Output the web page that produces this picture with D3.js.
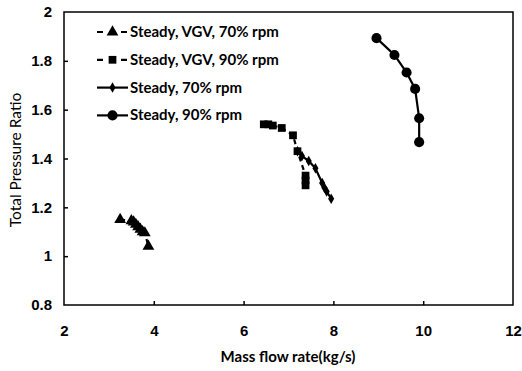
<!DOCTYPE html>
<html>
<head>
<meta charset="utf-8">
<script src="https://cdn.jsdelivr.net/npm/d3@7"></script>
<style>
  body { margin: 0; background: #fff; }
  svg { display: block; font-family: Lato, "Open Sans", sans-serif; }
</style>
</head>
<body>
<svg id="chart" width="522" height="371"></svg>
<script>
// Compressor characteristic: mass flow vs. total pressure ratio
const xTicks = [2, 4, 6, 8, 10, 12];
const yTicks = [0.8, 1, 1.2, 1.4, 1.6, 1.8, 2];

const vgv70 = [[3.25,1.15],[3.5,1.145],[3.55,1.14],[3.6,1.13],[3.65,1.12],[3.7,1.11],[3.75,1.10],[3.8,1.095],[3.88,1.04]];
const vgv90 = [[6.45,1.54],[6.55,1.54],[6.65,1.535],[6.85,1.525],[7.1,1.495],[7.2,1.43],[7.38,1.33],[7.38,1.31],[7.38,1.29]];
const rpm70 = [[7.2,1.43],[7.3,1.41],[7.45,1.39],[7.6,1.36],[7.75,1.30],[7.8,1.28],[7.85,1.265],[7.95,1.235]];
const rpm90 = [[8.96,1.893],[9.36,1.824],[9.63,1.752],[9.82,1.685],[9.91,1.565],[9.91,1.467]];

const seriesNames = ["Steady, VGV, 70% rpm", "Steady, VGV, 90% rpm", "Steady, 70% rpm", "Steady, 90% rpm"];
const seriesData = [vgv70, vgv90, rpm70, rpm90];
const seriesShapes = [d3.symbolTriangle, d3.symbolSquare, d3.symbolDiamond, d3.symbolCircle];
const seriesSizes = [60, 60, 32, 80];
const seriesDash = ["5,4", "5,4", null, null];

const svg = d3.select("#chart");
const m = { left: 64, right: 513, top: 12, bottom: 305 };

const x = d3.scaleLinear().domain([2, 12]).range([m.left, m.right]);
const y = d3.scaleLinear().domain([0.8, 2]).range([m.bottom, m.top]);

// Axes with inward ticks
const xAxis = d3.axisBottom(x).tickValues(xTicks).tickSizeInner(-4).tickSizeOuter(0).tickPadding(20).tickFormat(d3.format("d"));
const yAxis = d3.axisLeft(y).tickValues(yTicks).tickSizeInner(-4).tickSizeOuter(0).tickPadding(12).tickFormat(d => d3.format("")(d));

const gx = svg.append("g").attr("transform", `translate(0,${m.bottom})`).call(xAxis);
const gy = svg.append("g").attr("transform", `translate(${m.left},0)`).call(yAxis);
[gx, gy].forEach(g => {
  g.select(".domain").remove();
  g.selectAll(".tick line").attr("stroke", "#000").attr("stroke-width", 1.5);
  g.selectAll(".tick text").attr("fill", "#000").style("font-size", "15px").style("font-weight", "bold");
});
// Drop the tick marks at the frame corners
gx.selectAll(".tick line").filter(d => d === 2 || d === 12).remove();
gy.selectAll(".tick line").filter(d => d === 0.8 || d === 2).remove();

// Plot frame
svg.append("rect")
  .attr("x", m.left).attr("y", m.top)
  .attr("width", m.right - m.left).attr("height", m.bottom - m.top)
  .attr("fill", "none").attr("stroke", "#000").attr("stroke-width", 1.5);

// Axis titles
svg.append("text")
  .attr("x", 288).attr("y", 362)
  .attr("text-anchor", "middle")
  .style("font-size", "15px").style("font-weight", "bold")
  .text("Mass flow rate(kg/s)");
svg.append("text")
  .attr("transform", `translate(21,160) rotate(-90)`)
  .attr("text-anchor", "middle")
  .style("font-size", "15.5px")
  .text("Total Pressure Ratio");

// Series lines and markers
const line = d3.line().x(d => x(d[0])).y(d => y(d[1]));
seriesData.forEach((data, i) => {
  svg.append("path")
    .datum(data)
    .attr("d", line)
    .attr("fill", "none")
    .attr("stroke", "#000")
    .attr("stroke-width", 2.2)
    .attr("stroke-dasharray", seriesDash[i]);
  svg.append("g").selectAll("path")
    .data(data)
    .join("path")
    .attr("transform", d => `translate(${x(d[0])},${y(d[1])})`)
    .attr("d", d3.symbol().type(seriesShapes[i]).size(seriesSizes[i]))
    .attr("fill", "#000");
});

// Legend
const legend = svg.append("g");
seriesNames.forEach((name, i) => {
  const ly = 32 + i * 27.8;
  legend.append("line")
    .attr("x1", 97).attr("x2", 128).attr("y1", ly).attr("y2", ly)
    .attr("stroke", "#000").attr("stroke-width", 2.2)
    .attr("stroke-dasharray", seriesDash[i] ? "6,6" : null);
  legend.append("path")
    .attr("transform", `translate(112.5,${ly})`)
    .attr("d", d3.symbol().type(seriesShapes[i]).size(seriesSizes[i]))
    .attr("fill", "#000");
  legend.append("text")
    .attr("x", 130).attr("y", ly + 5)
    .style("font-size", "15px").style("font-weight", "bold")
    .text(name);
});
</script>
</body>
</html>
